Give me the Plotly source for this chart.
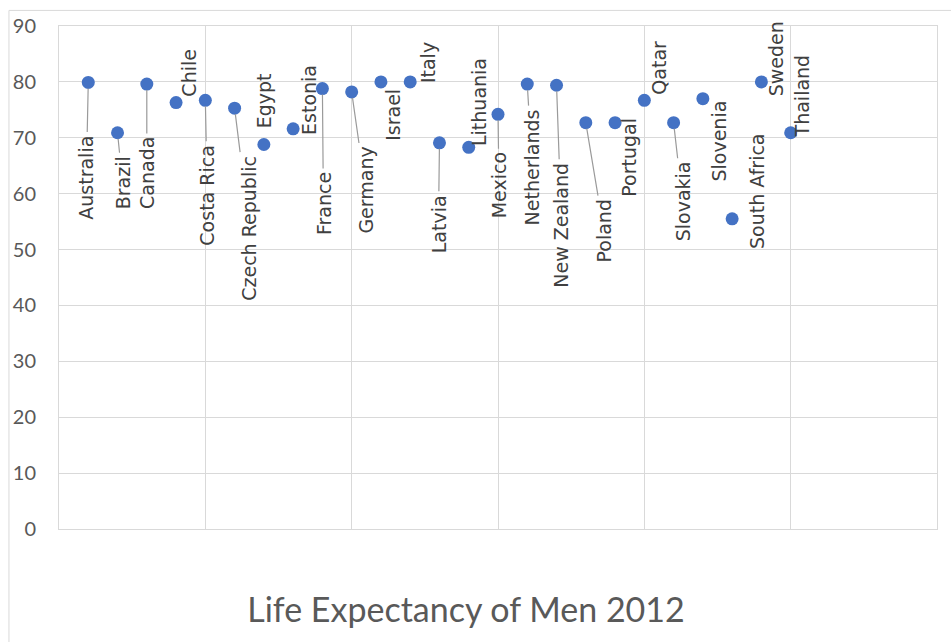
import plotly.graph_objects as go

# Male life expectancy at birth, 2012 (years)
countries = [
    "Australia", "Brazil", "Canada", "Chile", "Costa Rica", "Czech Republic",
    "Egypt", "Estonia", "France", "Germany", "Israel", "Italy", "Latvia",
    "Lithuania", "Mexico", "Netherlands", "New Zealand", "Poland", "Portugal",
    "Qatar", "Slovakia", "Slovenia", "South Africa", "Sweden", "Thailand",
]
life_expectancy = [
    79.9, 70.9, 79.6, 76.3, 76.7, 75.3,
    68.8, 71.6, 78.8, 78.2, 80.0, 80.0, 69.1,
    68.3, 74.2, 79.6, 79.4, 72.7, 72.7,
    76.7, 72.7, 77.0, 55.5, 80.0, 70.9,
]
# series plotted against its running index (1..n)
index = list(range(1, len(countries) + 1))

y_ticks = [0, 10, 20, 30, 40, 50, 60, 70, 80, 90]

# label placement: (dx, dy) pixel offset of the label centre from its point,
# and whether a leader line is drawn
label_layout = {
    "Australia": (-2, 95, True),
    "Brazil": (5, 50, True),
    "Canada": (0, 89, True),
    "Chile": (12, -30, False),
    "Costa Rica": (2, 95, True),
    "Czech Republic": (15, 120, True),
    "Egypt": (1, -44, False),
    "Estonia": (16, -29, False),
    "France": (1, 115, True),
    "Germany": (14, 98, True),
    "Israel": (12, 33, True),
    "Italy": (18, -19, False),
    "Latvia": (-1, 81, True),
    "Lithuania": (11, -45, False),
    "Mexico": (1, 71, True),
    "Netherlands": (5, 83, True),
    "New Zealand": (5, 140, True),
    "Poland": (18, 108, True),
    "Portugal": (14, 35, False),
    "Qatar": (15, -33, False),
    "Slovakia": (9, 79, True),
    "Slovenia": (16, 42, False),
    "South Africa": (25, -27, False),
    "Sweden": (14, -23, False),
    "Thailand": (11, -37, False),
}

GRID = "#d9d9d9"
TEXT = "#595959"

fig = go.Figure(
    go.Scatter(
        x=index,
        y=life_expectancy,
        mode="markers",
        marker=dict(size=13, color="#4472C4"),
        hoverinfo="skip",
        showlegend=False,
    )
)

annotations = []
for xi, yi, name in zip(index, life_expectancy, countries):
    dx, dy, leader = label_layout[name]
    annotations.append(
        dict(
            x=xi, y=yi, xref="x", yref="y",
            text=name, textangle=-90,
            showarrow=True, ax=dx, ay=dy,
            arrowhead=0, arrowwidth=1.2,
            arrowcolor="#9a9a9a" if leader else "rgba(0,0,0,0)",
            standoff=6, startstandoff=2,
            font=dict(family="DejaVu Sans", size=19, color="#404040"),
        )
    )

fig.update_layout(
    width=951,
    height=642,
    margin=dict(l=59, r=14, t=26, b=113),
    paper_bgcolor="white",
    plot_bgcolor="white",
    title=dict(
        text="Life Expectancy of Men 2012",
        x=0.49, xref="container", xanchor="center",
        y=0.05, yref="container", yanchor="middle",
        font=dict(family="Lato", size=34, color=TEXT),
    ),
    xaxis=dict(
        range=[0, 30], dtick=5, showticklabels=False,
        showgrid=True, gridcolor=GRID, gridwidth=1,
        zeroline=False, showline=True, mirror=True, linecolor=GRID,
        fixedrange=True,
    ),
    yaxis=dict(
        range=[0, 90], tickmode="array", tickvals=y_ticks,
        ticktext=[str(t) for t in y_ticks],
        showgrid=True, gridcolor=GRID, gridwidth=1,
        zeroline=False, showline=True, mirror=True, linecolor=GRID,
        ticks="", ticklabelstandoff=18,
        tickfont=dict(family="Lato", size=20, color=TEXT),
        fixedrange=True,
    ),
    annotations=annotations,
    shapes=[
        # outer chart frame
        dict(
            type="rect", xref="paper", yref="paper",
            x0=-0.057, x1=1.03, y0=-0.26, y1=1.031,
            line=dict(color=GRID, width=1), layer="below",
        )
    ],
)

fig.write_html("out.html")
